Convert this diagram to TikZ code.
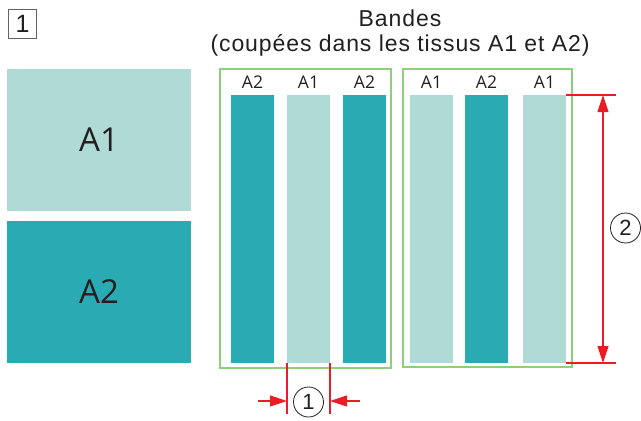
\documentclass[tikz,border=0pt]{standalone}
\usepackage{fontspec}
\setmainfont{Liberation Sans}
\newfontfamily\titrefont[LetterSpace=4]{Liberation Sans}
\newfontfamily\tissufont{Open Sans}
\usetikzlibrary{arrows.meta}
\definecolor{clair}{HTML}{B0DAD6}
\definecolor{fonce}{HTML}{2AABB3}
\definecolor{cadre}{HTML}{8DCF7B}
\definecolor{cote}{HTML}{EA1C24}
\definecolor{encre}{HTML}{231F20}

\begin{document}
\begin{tikzpicture}[x=1pt,y=-1pt,>={Triangle[length=17pt,width=11pt]},text=encre,
  tissu/.style={minimum width=184pt,minimum height=142pt,inner sep=0,outer sep=0,font=\tissufont\fontsize{33}{33}\selectfont},
  bande/.style={minimum width=43pt,minimum height=268pt,inner sep=0,outer sep=0},
  etiq/.style={font=\tissufont\fontsize{17.5}{17.5}\selectfont,inner sep=0},
  repere/.style={draw=encre,circle,line width=0.8pt,minimum size=30pt,inner sep=0,font=\fontsize{22}{22}\selectfont},
  cadrebox/.style={draw=cadre,line width=1.6pt},
  cotation/.style={draw=cote,line width=1.1pt}]
\useasboundingbox (0,0) rectangle (641,421);
% numero de l'etape
\node[draw=encre!70,line width=0.8pt,minimum size=28.5pt,inner sep=0,font=\fontsize{25}{25}\selectfont] (etape) at (22.5,24) {1};
% les deux tissus
\node[tissu,fill=clair] (tA1) at (99,140) {A1};
\node[tissu,fill=fonce] (tA2) at (99,292) {A2};
% titre
\node[font=\titrefont\fontsize{23}{25}\selectfont,align=center] (titre) at (400,33) {Bandes\\(coupées dans les tissus A1 et A2)};
% cadres verts
\draw[cadrebox] (220,69) rectangle (391,368);
\draw[cadrebox] (403,69) rectangle (572,367);
% bandes
\node[bande,fill=fonce] (b1) at (252.5,229) {}; \node[etiq] at (252.5,82) {A2};
\node[bande,fill=clair] (b2) at (308.5,229) {}; \node[etiq] at (308.5,82) {A1};
\node[bande,fill=fonce] (b3) at (364.5,229) {}; \node[etiq] at (364.5,82) {A2};
\node[bande,fill=clair] (b4) at (431.5,229) {}; \node[etiq] at (431.5,82) {A1};
\node[bande,fill=fonce] (b5) at (486.5,229) {}; \node[etiq] at (486.5,82) {A2};
\node[bande,fill=clair] (b6) at (544.5,229) {}; \node[etiq] at (544.5,82) {A1};
% cote 1 : largeur
\coordinate (g1) at (b2.south west |- 0,414); \coordinate (d1) at (b2.south east |- 0,414);
\draw[cotation] (b2.south west) -- (g1); \draw[cotation] (b2.south east) -- (d1);
\coordinate (ga) at (258,401); \coordinate (da) at (360,401);
\draw[cotation,->] (ga) -- (ga -| g1); \draw[cotation,->] (da) -- (da -| d1);
\node[repere] (r1) at (308.5,402) {1};
% cote 2 : longueur
\coordinate (h2) at (616,0 |- b6.north east); \coordinate (k2) at (616,0 |- b6.south east);
\draw[cotation] (b6.north east) -- (h2); \draw[cotation] (b6.south east) -- (k2);
\draw[cotation,<->] (603,0 |- h2) -- (603,0 |- k2);
\node[repere] (r2) at (625.5,228) {2};
\end{tikzpicture}
\end{document}
